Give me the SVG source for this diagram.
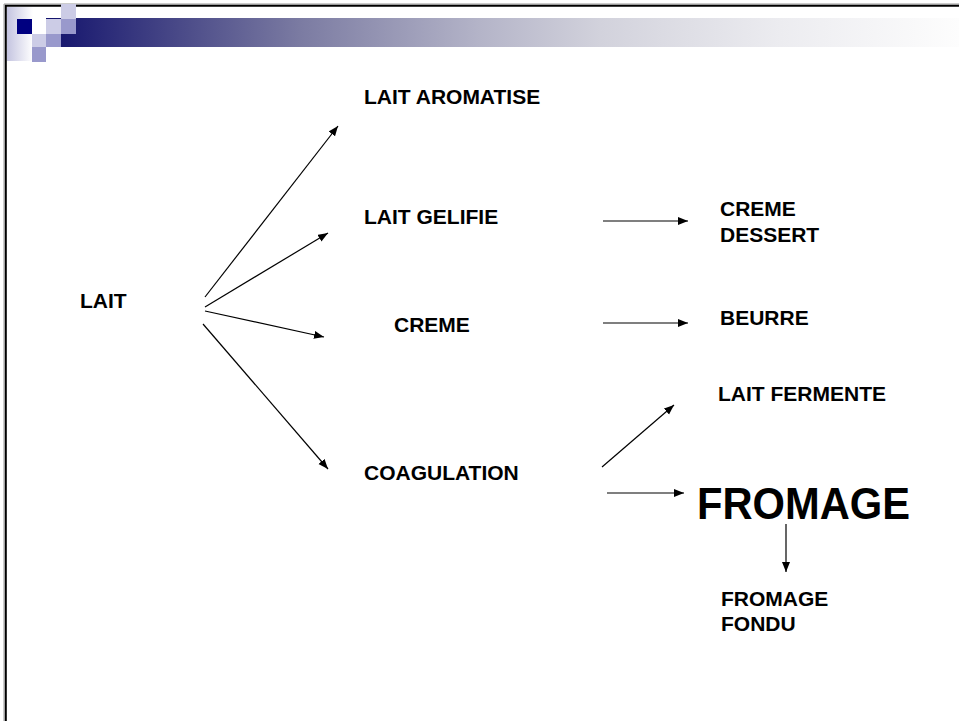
<svg xmlns="http://www.w3.org/2000/svg" width="959" height="721" viewBox="0 0 959 721">
  <defs>
    <linearGradient id="barGrad" gradientUnits="userSpaceOnUse" x1="46" y1="0" x2="959" y2="0">
      <stop offset="0" stop-color="#12126c"/>
      <stop offset="0.147" stop-color="#4a4a88"/>
      <stop offset="0.278" stop-color="#7b7ba2"/>
      <stop offset="0.475" stop-color="#b4b4c8"/>
      <stop offset="0.607" stop-color="#d2d2dc"/>
      <stop offset="0.804" stop-color="#ececf0"/>
      <stop offset="1" stop-color="#fdfdfd"/>
    </linearGradient>
    <linearGradient id="cornerGrad" x1="0" y1="0" x2="1" y2="0">
      <stop offset="0" stop-color="#c4c4e0"/>
      <stop offset="1" stop-color="#ffffff"/>
    </linearGradient>
    <marker id="arrow" markerUnits="userSpaceOnUse" markerWidth="11" markerHeight="9" refX="10" refY="4" orient="auto">
      <path d="M0,0 L10,4 L0,8 z" fill="#000"/>
    </marker>
    <style>
      .lbl { font-family: "Liberation Sans", Arial, sans-serif; font-weight: bold; font-size: 21px; fill: #000; }
      .big { font-family: "Liberation Sans", Arial, sans-serif; font-weight: bold; font-size: 44px; fill: #000; }
      .conn line { stroke: #000; stroke-width: 1.2; marker-end: url(#arrow); }
      .sqL { fill: #ccccE6; }
      .sqM { fill: #9999cc; }
    </style>
  </defs>

  <rect width="959" height="721" fill="#fff"/>

  <!-- slide frame: top and left rules -->
  <g id="frame">
    <path d="M4,721 V4 H959" fill="none" stroke="#999" stroke-width="1"/>
    <path d="M5.8,721 V5.8 H959" fill="none" stroke="#000" stroke-width="2"/>
  </g>

  <!-- header ornament -->
  <g id="header">
    <rect x="7" y="7" width="26" height="54" fill="url(#cornerGrad)"/>
    <rect x="46" y="18" width="913" height="29" fill="url(#barGrad)"/>
    <rect x="17" y="19" width="15" height="15" fill="#000080"/>
    <rect class="sqL" x="61" y="4" width="15" height="15"/>
    <rect class="sqL" x="46" y="19" width="15" height="15"/>
    <rect class="sqL" x="32" y="34" width="14" height="13"/>
    <rect class="sqM" x="61" y="19" width="15" height="15"/>
    <rect class="sqM" x="46" y="34" width="15" height="13"/>
    <rect class="sqM" x="32" y="47" width="14" height="15"/>
  </g>

  <!-- connectors -->
  <g id="connectors" class="conn">
    <line x1="205" y1="297" x2="338" y2="126"/>
    <line x1="205" y1="307" x2="328" y2="233"/>
    <line x1="205" y1="311" x2="324" y2="337"/>
    <line x1="203" y1="324" x2="328" y2="469"/>
    <line x1="603" y1="221" x2="688" y2="221"/>
    <line x1="603" y1="323" x2="688" y2="323"/>
    <line x1="602" y1="467" x2="674" y2="405"/>
    <line x1="607" y1="493" x2="684" y2="493"/>
    <line x1="786" y1="524" x2="786" y2="572"/>
  </g>

  <!-- nodes -->
  <g id="lait"><text class="lbl" x="80" y="308">LAIT</text></g>
  <g id="lait-aromatise"><text class="lbl" x="364" y="104">LAIT AROMATISE</text></g>
  <g id="lait-gelifie"><text class="lbl" x="364" y="224">LAIT GELIFIE</text></g>
  <g id="creme"><text class="lbl" x="394" y="332">CREME</text></g>
  <g id="coagulation"><text class="lbl" x="364" y="480">COAGULATION</text></g>
  <g id="creme-dessert">
    <text class="lbl" x="720" y="216">CREME</text>
    <text class="lbl" x="720" y="242">DESSERT</text>
  </g>
  <g id="beurre"><text class="lbl" x="720" y="325">BEURRE</text></g>
  <g id="lait-fermente"><text class="lbl" x="718" y="401">LAIT FERMENTE</text></g>
  <g id="fromage"><text class="big" x="697" y="519" textLength="213" lengthAdjust="spacingAndGlyphs">FROMAGE</text></g>
  <g id="fromage-fondu">
    <text class="lbl" x="721" y="606">FROMAGE</text>
    <text class="lbl" x="721" y="631">FONDU</text>
  </g>
</svg>
